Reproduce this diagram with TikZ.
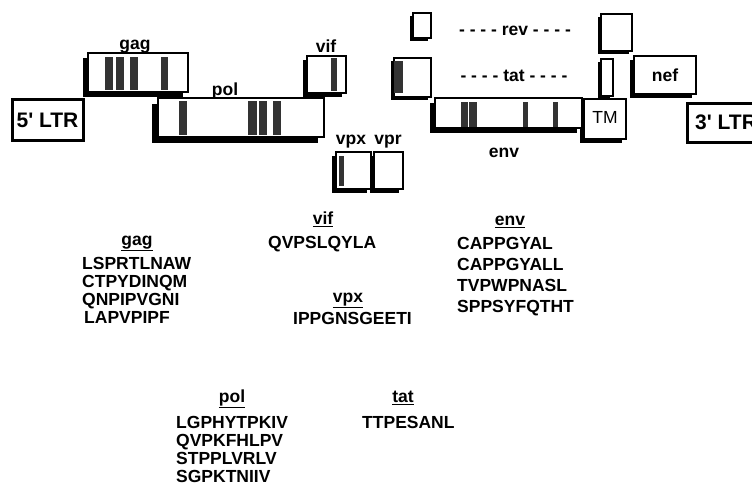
\documentclass[tikz,border=0pt]{standalone}
\usepackage{fontspec}
\setmainfont{Liberation Sans}
\usetikzlibrary{fit,shadows}
\tikzset{
  gbox/.style={draw=black, line width=1.2pt, fill=white, inner sep=0pt,
    drop shadow={shadow xshift=-#1, shadow yshift=-#1, fill=black, opacity=1}},
  gbox/.default=5pt,
  ltrbox/.style={draw=black, line width=3pt, fill=white, inner sep=0pt},
  ltrtext/.style={inner sep=0pt, text height=15pt, text depth=0pt,
    font=\bfseries\fontsize{21}{23}\selectfont},
  bar/.style={fill=black!80, draw=none, inner sep=0pt},
  lbl/.style={font=\bfseries\fontsize{17.5}{20}\selectfont, inner sep=0pt, text height=12.5pt, text depth=0pt},
  item/.style={lbl, anchor=west},
  head/.style={lbl, text depth=3.5pt},
}
\begin{document}
\begin{tikzpicture}[x=1pt,y=-1pt]
\useasboundingbox (0,0) rectangle (752,491);
% LTRs
\node[ltrbox, fit={(12,99)(83,140)}] (ltr5) {};
\node[ltrtext] (ltr5t) at (ltr5.center) {5\textquotesingle{} LTR};
\node[ltrbox, fit={(687,103)(772,142)}] (ltr3) {};
\node[ltrtext, anchor=west] (ltr3t) at (695,122) {3\textquotesingle{} LTR};
% gag
\node[gbox=5pt, fit={(88,53)(188,92)}] (gag) {};
\node[bar, fit={(105,57)(113,90)}] (gagb1) {};
\node[bar, fit={(116,57)(124,90)}] (gagb2) {};
\node[bar, fit={(130,57)(138,90)}] (gagb3) {};
\node[bar, fit={(161,57)(168,90)}] (gagb4) {};
\node[lbl] (gagl) at (135,43) {gag};
% pol
\node[gbox=6pt, fit={(158,98)(324,137)}] (pol) {};
\node[bar, fit={(179,101)(187,135)}] (polb1) {};
\node[bar, fit={(248,101)(257,135)}] (polb2) {};
\node[bar, fit={(259,101)(267,135)}] (polb3) {};
\node[bar, fit={(273,101)(281,135)}] (polb4) {};
\node[lbl] (poll) at (225,89) {pol};
% vif
\node[gbox=4pt, fit={(307,56)(346,93)}] (vif) {};
\node[bar, fit={(331,58)(337,91)}] (vifb) {};
\node[lbl] (vifl) at (326,46) {vif};
% vpr / vpx
\node[gbox=4pt, fit={(374,152)(403,189)}] (vpr) {};
\node[gbox=4pt, fit={(336,152)(371,189)}] (vpx) {};
\node[bar, fit={(339,156)(344,186)}] (vpxb) {};
\node[lbl] (vpxl) at (351,138) {vpx};
\node[lbl] (vprl) at (388,138) {vpr};
% rev / tat
\node[gbox=3pt, fit={(413,13)(431,38)}] (revl) {};
\node[gbox=3pt, fit={(601,14)(632,51)}] (revr) {};
\node[lbl] (revt) at (515,29) {- - - - rev - - - -};
\node[gbox=3pt, fit={(394,58)(431,97)}] (tatl) {};
\node[bar, fit={(394,61)(403,93)}] (tatb) {};
\node[gbox=3pt, fit={(601,59)(613,96)}] (tatr) {};
\node[lbl] (tatt) at (514,75) {- - - - tat - - - -};
% nef
\node[gbox=4pt, fit={(634,56)(696,94)}] (nef) {};
\node[lbl] (neft) at (nef.center) {nef};
% TM and env
\node[gbox=4pt, fit={(584,99)(626,139)}] (tm) {};
\node[inner sep=0pt, text height=12.5pt, text depth=0pt, font=\fontsize{17.5}{20}\selectfont] (tmt) at (605,117) {TM};
\node[gbox=5pt, fit={(435,98)(582,128)}] (env) {};
\node[bar, fit={(461,102)(468,127)}] (envb1) {};
\node[bar, fit={(469,102)(477,127)}] (envb2) {};
\node[bar, fit={(523,102)(528,127)}] (envb3) {};
\node[bar, fit={(553,102)(558,127)}] (envb4) {};
\node[lbl] (envl) at (504,151) {env};
% epitope lists
\node[head] (hgag) at (137,241) {\underline{gag}};
\node[item] (g1) at (82,263) {LSPRTLNAW};
\node[item] (g2) at (82,281) {CTPYDINQM};
\node[item] (g3) at (82,299) {QNPIPVGNI};
\node[item] (g4) at (84,317) {LAPVPIPF};
\node[head] (hvif) at (323,220) {\underline{vif}};
\node[item] (v1) at (268,242) {QVPSLQYLA};
\node[head] (hvpx) at (348,298) {\underline{vpx}};
\node[item] (x1) at (293,318) {IPPGNSGEETI};
\node[head] (henv) at (510,221) {\underline{env}};
\node[item] (e1) at (457,243) {CAPPGYAL};
\node[item] (e2) at (457,264) {CAPPGYALL};
\node[item] (e3) at (457,285) {TVPWPNASL};
\node[item] (e4) at (457,306) {SPPSYFQTHT};
\node[head] (hpol) at (232,398) {\underline{pol}};
\node[item] (p1) at (176,422) {LGPHYTPKIV};
\node[item] (p2) at (176,440) {QVPKFHLPV};
\node[item] (p3) at (176,458) {STPPLVRLV};
\node[item] (p4) at (176,476) {SGPKTNIIV};
\node[head] (htat) at (403,398) {\underline{tat}};
\node[item] (t1) at (362,422) {TTPESANL};
\end{tikzpicture}
\end{document}
